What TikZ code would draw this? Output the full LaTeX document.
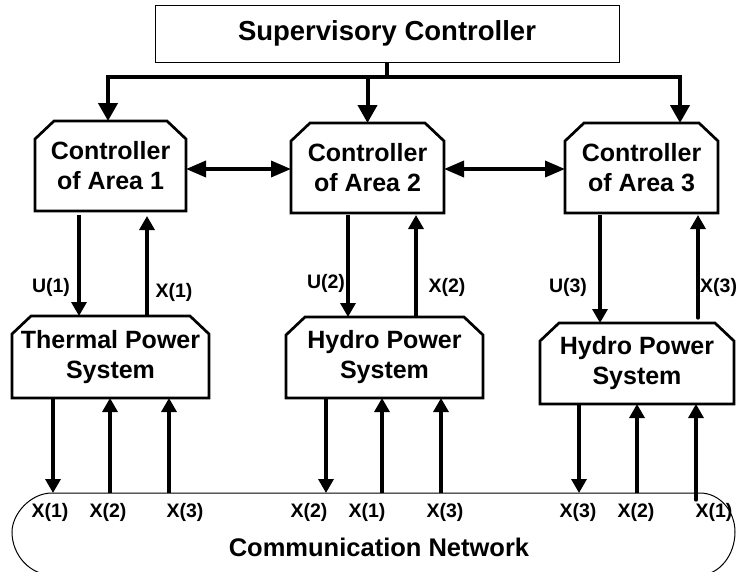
\documentclass[tikz,border=0pt]{standalone}
\usepackage{fontspec}
\setmainfont{Liberation Sans}
\usetikzlibrary{arrows.meta,calc}
\newcommand\chamfbox[1]{\draw[boxline] ($(#1.north west)+(0,18)$) -- ($(#1.north west)+(19,0)$) -- ($(#1.north east)+(-19,0)$) -- ($(#1.north east)+(0,18)$) -- (#1.south east) -- (#1.south west) -- cycle;}
\begin{document}
\begin{tikzpicture}[x=1pt,y=-1pt,
  boxline/.style={line width=2.7pt, line join=miter},
  box/.style={inner sep=0pt, outer sep=0pt, align=center, font=\fontsize{25}{30}\selectfont\bfseries},
  lab/.style={inner sep=0pt, font=\fontsize{19.5}{21}\selectfont\bfseries},
  arr/.style={line width=3.3pt, -{Triangle[width=15pt,length=14pt]}},
  busline/.style={line width=4pt},
  busarr/.style={line width=4pt, -{Triangle[width=19pt,length=18pt]}},
  biarr/.style={line width=3.5pt, {Triangle[width=16pt,length=20pt]}-{Triangle[width=16pt,length=20pt]}},
  netline/.style={line width=1pt},
]
\useasboundingbox (0,0) rectangle (736,571);

% supervisory controller
\node[box, draw, line width=1pt, minimum width=464pt, minimum height=57pt, font=\fontsize{27.5}{30}\selectfont\bfseries] (sup) at (387,33.5) {Supervisory Controller};

% controllers
\node[box, minimum width=151pt, minimum height=90pt] (c1) at (110.5,166) {Controller\\of Area 1};
\node[box, minimum width=153pt, minimum height=90pt] (c2) at (367.5,168) {Controller\\of Area 2};
\node[box, minimum width=153pt, minimum height=90pt] (c3) at (641.5,168) {Controller\\of Area 3};
\chamfbox{c1}
\chamfbox{c2}
\chamfbox{c3}

% power systems
\node[box, minimum width=197pt, minimum height=82pt] (t) at (110.5,357) {Thermal Power\\System};
\node[box, minimum width=197pt, minimum height=81pt] (h1) at (384.5,357.5) {Hydro Power\\System};
\node[box, minimum width=194pt, minimum height=81pt] (h2) at (637,363.5) {Hydro Power\\System};
\chamfbox{t}
\chamfbox{h1}
\chamfbox{h2}

% bus
\coordinate (bj) at (387,77);
\draw[busline] (sup.south) -- (bj);
\draw[busarr] (bj) -| ([xshift=-2.5pt]c1.north);
\draw[busarr] (bj) -| ([xshift=38.5pt]c3.north);
\draw[busarr] (bj -| c2.north) -- (c2.north);

% controller links
\draw[biarr] ([yshift=-3pt]c1.east) -- ([yshift=-3pt]c1.east -| c2.west);
\draw[biarr] ([yshift=-1pt]c2.east) -- ([yshift=-1pt]c2.east -| c3.west);

% controller <-> system
\draw[arr, shorten <=4pt] ([xshift=-31.5pt]c1.south) -- ([xshift=-31.5pt]c1.south |- t.north);
\draw[arr, shorten >=5pt] ([xshift=36.5pt]c1.south |- t.north) -- ([xshift=36.5pt]c1.south);
\draw[arr, shorten <=2pt] ([xshift=-19.5pt]c2.south) -- ([xshift=-19.5pt]c2.south |- h1.north);
\draw[arr, shorten >=2pt] ([xshift=48.5pt]c2.south |- h1.north) -- ([xshift=48.5pt]c2.south);
\draw[arr, shorten <=2pt] ([xshift=-41.5pt]c3.south) -- ([xshift=-41.5pt]c3.south |- h2.north);
\draw[arr, line cap=round, shorten <=5pt, shorten >=2pt] ([xshift=56.5pt]c3.south |- h2.north) -- ([xshift=56.5pt]c3.south);

\node[lab] (lu1) at (51,287) {U(1)};
\node[lab] (lx1) at (174,292) {X(1)};
\node[lab] (lu2) at (326,283) {U(2)};
\node[lab] (lx2) at (447,287) {X(2)};
\node[lab] (lu3) at (568,287) {U(3)};
\node[lab, anchor=west] (lx3) at (700,287) {X(3)};

% communication network
\coordinate (nl) at (0,493);
\draw[netline] (52,575) .. controls (29.9,575) and (12,555) .. (12,532)
  .. controls (12,514.5) and (29.9,493) .. (52,493) -- (700,493)
  .. controls (719.3,493) and (735,510.5) .. (735,532)
  .. controls (735,555) and (719.3,575) .. (700,575);
\node[inner sep=0pt, font=\fontsize{25.5}{30}\selectfont\bfseries] (net) at (379,547) {Communication Network};

% system <-> network
\draw[arr] ([xshift=-57.5pt]t.south) -- ([xshift=-57.5pt]t.south |- nl);
\draw[arr] ([xshift=-0.5pt]t.south |- nl) -- ([xshift=-0.5pt]t.south);
\draw[arr] ([xshift=58.5pt]t.south |- nl) -- ([xshift=58.5pt]t.south);
\draw[arr] ([xshift=-58.5pt]h1.south) -- ([xshift=-58.5pt]h1.south |- nl);
\draw[arr] ([xshift=-2.5pt]h1.south |- nl) -- ([xshift=-2.5pt]h1.south);
\draw[arr] ([xshift=56.5pt]h1.south |- nl) -- ([xshift=56.5pt]h1.south);
\draw[arr] ([xshift=-58pt]h2.south) -- ([xshift=-58pt]h2.south |- nl);
\draw[arr] (h2.south |- nl) -- (h2.south);
\draw[arr, line cap=round] ($([xshift=59pt]h2.south |- nl)+(0,7)$) -- ([xshift=59pt]h2.south);

\node[lab] (b1) at (50,512) {X(1)};
\node[lab] (b2) at (108,512) {X(2)};
\node[lab] (b3) at (185,512) {X(3)};
\node[lab] (b4) at (309,512) {X(2)};
\node[lab] (b5) at (367,512) {X(1)};
\node[lab] (b6) at (445,512) {X(3)};
\node[lab] (b7) at (578,512) {X(3)};
\node[lab] (b8) at (636,512) {X(2)};
\node[lab] (b9) at (714,512) {X(1)};
\end{tikzpicture}
\end{document}
